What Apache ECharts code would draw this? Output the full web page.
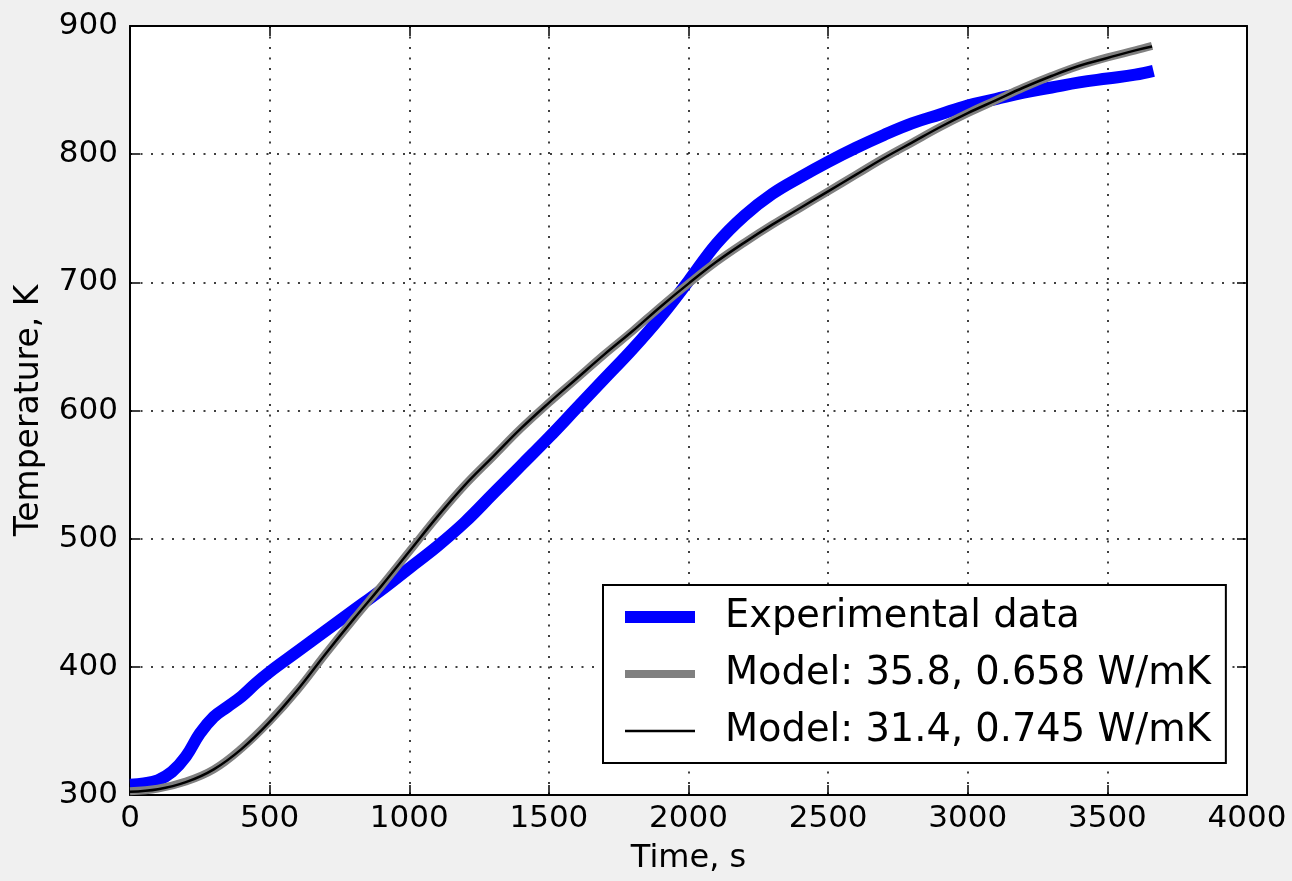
<!DOCTYPE html>
<html>
<head>
<meta charset="utf-8">
<script src="https://cdn.jsdelivr.net/npm/echarts@6/dist/echarts.min.js"></script>
<style>
html,body{margin:0;padding:0;background:#f0f0f0;}
#chart{width:1292px;height:881px;}
</style>
</head>
<body>
<div id="chart"></div>
<script>
// Experimental data (time, s / temperature, K)
const expTime = [0, 50, 100, 150, 200, 250, 300, 350, 400, 450, 500, 600, 700, 800, 900, 1000, 1100, 1200, 1300, 1400, 1500, 1600, 1700, 1800, 1900, 2000, 2100, 2200, 2300, 2400, 2500, 2600, 2700, 2800, 2900, 3000, 3100, 3200, 3300, 3400, 3500, 3600, 3665];
const expTemp = [308, 309, 311.5, 318, 330, 348, 361, 369, 377, 387, 396, 412, 428, 444, 460, 477, 494, 513, 535, 557, 579, 602, 625, 648, 673, 701, 730, 752, 769, 782, 794, 805, 815, 824, 831, 838, 843, 848, 852, 856, 859, 862, 865];

// Model curves
const modelTime = [0, 100, 200, 300, 400, 500, 600, 700, 800, 900, 1000, 1100, 1200, 1300, 1400, 1500, 1600, 1700, 1800, 1900, 2000, 2100, 2200, 2300, 2400, 2500, 2600, 2700, 2800, 2900, 3000, 3100, 3200, 3300, 3400, 3500, 3600, 3660];
const modelATemp = [303, 305, 310.5, 320, 336.5, 357.5, 382, 410, 437, 463, 490, 517, 542, 564, 586, 606, 625, 644, 662, 681, 699, 716, 731, 745, 758, 771, 784, 797, 809, 821, 832, 842, 852, 861, 869, 875.5, 881, 884.5];
const modelBTemp = [302.5, 304.5, 310, 320, 336, 357, 382, 410, 437, 463, 490, 517, 542, 564, 586, 606, 625, 644, 662, 681, 699, 716, 731, 745, 758, 771, 784, 797, 809, 821, 832, 842, 852, 861, 869, 875, 881, 884];

const xTicks = { min: 0, max: 4000, interval: 500 };
const yTicks = { min: 300, max: 900, interval: 100 };
const seriesNames = ['Experimental data', 'Model: 35.8, 0.658 W/mK', 'Model: 31.4, 0.745 W/mK'];
const seriesColors = ['#0000ff', '#808080', '#000000'];
const seriesWidths = [12, 8, 2.5];

const zip = (a, b) => a.map((v, i) => [v, b[i]]);
const FONT = 'DejaVu Sans';

const chart = echarts.init(document.getElementById('chart'), null, { renderer: 'canvas' });

const baseAxis = {
  axisLine: { show: true, onZero: false, lineStyle: { color: '#000', width: 2 } },
  axisTick: { show: true, inside: true, length: 10, lineStyle: { color: '#000', width: 1.5 } },
};

chart.setOption({
  animation: false,
  backgroundColor: '#f0f0f0',
  grid: { left: 130, right: 45, top: 26, bottom: 86, show: true, backgroundColor: '#ffffff', borderWidth: 0 },
  xAxis: [
    Object.assign({}, baseAxis, {
      type: 'value', position: 'bottom', min: xTicks.min, max: xTicks.max, interval: xTicks.interval,
      name: 'Time, s', nameLocation: 'middle', nameGap: 48,
      nameTextStyle: { fontFamily: FONT, fontSize: 32, color: '#000' },
      axisLabel: { show: true, margin: 8, fontFamily: FONT, fontSize: 31, color: '#000', formatter: v => String(v) },
      splitLine: { show: true, lineStyle: { color: '#000', width: 1.5, type: [2, 8.5] } }
    }),
    Object.assign({}, baseAxis, {
      type: 'value', position: 'top', min: xTicks.min, max: xTicks.max, interval: xTicks.interval,
      axisLabel: { show: false }, splitLine: { show: false }
    })
  ],
  yAxis: [
    Object.assign({}, baseAxis, {
      type: 'value', position: 'left', min: yTicks.min, max: yTicks.max, interval: yTicks.interval,
      name: 'Temperature, K', nameLocation: 'middle', nameGap: 84,
      nameTextStyle: { fontFamily: FONT, fontSize: 33, color: '#000' },
      axisLabel: { show: true, margin: 12, fontFamily: FONT, fontSize: 31, color: '#000', formatter: v => String(v) },
      splitLine: { show: true, lineStyle: { color: '#000', width: 1.5, type: [2, 8.5] } }
    }),
    Object.assign({}, baseAxis, {
      type: 'value', position: 'right', min: yTicks.min, max: yTicks.max, interval: yTicks.interval,
      axisLabel: { show: false }, splitLine: { show: false }
    })
  ],
  legend: {
    show: true,
    orient: 'vertical', left: 603, top: 585,
    padding: [12, 15, 12, 22],
    backgroundColor: '#ffffff', borderColor: '#000', borderWidth: 2,
    itemWidth: 70, itemHeight: 14, itemGap: 17,
    symbolKeepAspect: true,
    textStyle: { fontFamily: FONT, fontSize: 38.4, color: '#000', lineHeight: 40, padding: [0, 0, 0, 25] },
    data: seriesNames.map((n, i) => ({
      name: n,
      icon: 'path://M0,0H70V' + seriesWidths[i] + 'H0Z',
      itemStyle: { color: seriesColors[i], borderWidth: 0 }
    })),
    selectedMode: false
  },
  series: seriesNames.map((n, i) => ({
    name: n, type: 'line', xAxisIndex: 0, yAxisIndex: 0,
    data: i === 0 ? zip(expTime, expTemp) : zip(modelTime, i === 1 ? modelATemp : modelBTemp),
    showSymbol: false, symbol: 'none',
    smooth: 0.4,
    lineStyle: { color: seriesColors[i], width: seriesWidths[i], cap: 'butt' },
    itemStyle: { color: seriesColors[i] },
    z: 2 + i
  }))
});
</script>
</body>
</html>
